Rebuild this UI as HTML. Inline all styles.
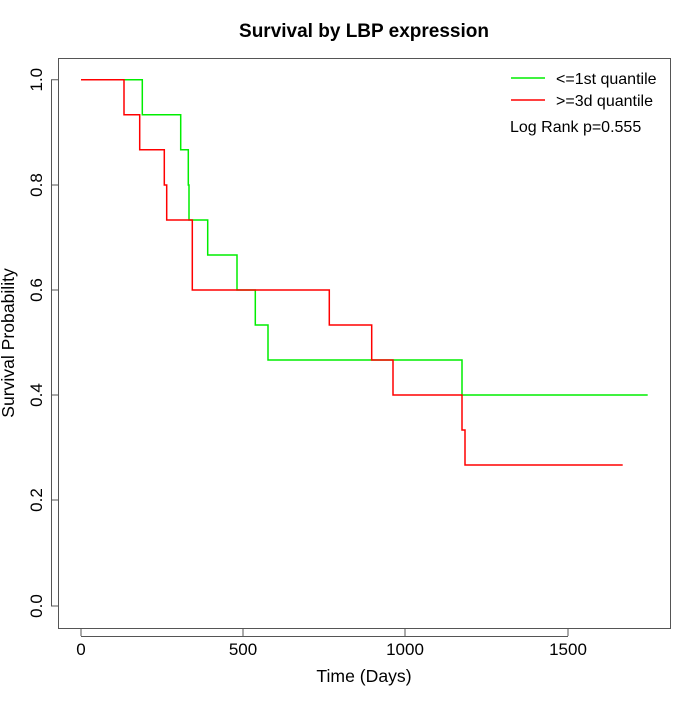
<!DOCTYPE html>
<html><head><meta charset="utf-8"><style>body{margin:0;background:#fff}</style></head><body>
<svg width="700" height="700" xmlns="http://www.w3.org/2000/svg" font-family="Liberation Sans, sans-serif">
<rect width="700" height="700" fill="#fff"/>
<text x="364" y="37" font-size="19" font-weight="bold" text-anchor="middle">Survival by LBP expression</text>
<rect x="58.5" y="58.5" width="612" height="570" fill="none" stroke="#555" stroke-width="1"/>
<g stroke="#555" fill="none">
<path d="M81 628.5V636M243 628.5V636M405 628.5V636M568 628.5V636M81 636.5H568"/>
<path d="M58.5 79.7H51M58.5 185H51M58.5 290H51M58.5 395H51M58.5 500H51M58.5 606H51M51.5 79.7V606"/>
</g>
<g font-size="17" text-anchor="middle">
<text x="81" y="655">0</text><text x="243" y="655">500</text><text x="405" y="655">1000</text><text x="568" y="655">1500</text>
<text x="364" y="682" font-size="17.6">Time (Days)</text>
</g>
<g font-size="17" text-anchor="middle">
<text transform="translate(42,79.7) rotate(-90)">1.0</text>
<text transform="translate(42,185) rotate(-90)">0.8</text>
<text transform="translate(42,290) rotate(-90)">0.6</text>
<text transform="translate(42,395) rotate(-90)">0.4</text>
<text transform="translate(42,500) rotate(-90)">0.2</text>
<text transform="translate(42,606) rotate(-90)">0.0</text>
<text transform="translate(14,343) rotate(-90)" font-size="17.6">Survival Probability</text>
</g>
<path fill="none" stroke="#00ee00" stroke-width="1.5" d="M81 79.7H142.3V114.7H180.7V149.7H188.3V185H189V220H207.7V255H237V290H255.3V325H268V360H462V395H647.7"/>
<path fill="none" stroke="#ff0000" stroke-width="1.5" d="M81 79.7H124V114.7H139.7V149.7H164.3V185H166.7V220H192.3V290H329.3V325H371.7V360H393V395H462V430H465V465H622.7"/>
<line x1="511" y1="78" x2="545" y2="78" stroke="#00ee00" stroke-width="1.5"/>
<line x1="511" y1="100" x2="545" y2="100" stroke="#ff0000" stroke-width="1.5"/>
<g font-size="16">
<text x="556" y="84">&lt;=1st quantile</text>
<text x="556" y="106">&gt;=3d quantile</text>
<text x="510" y="132">Log Rank p=0.555</text>
</g>
</svg>
</body></html>
